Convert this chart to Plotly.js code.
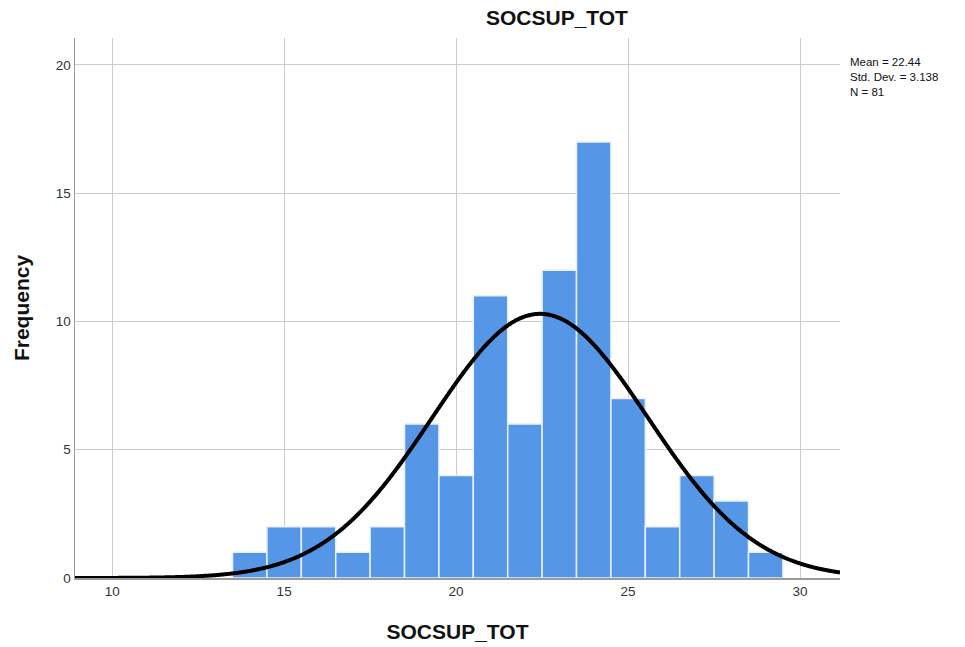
<!DOCTYPE html>
<html>
<head>
<meta charset="utf-8">
<script src="https://cdn.plot.ly/plotly-3.0.1.min.js"></script>
<style>html,body{margin:0;padding:0;background:#fff;}#chart{width:965px;height:647px;}</style>
</head>
<body>
<div id="chart"></div>
<script>
// Data
const binCenters = [14, 15, 16, 17, 18, 19, 20, 21, 22, 23, 24, 25, 26, 27, 28, 29];
const frequencies = [1, 2, 2, 1, 2, 6, 4, 11, 6, 12, 17, 7, 2, 4, 3, 1];
const statMean = 22.44;
const statSD = 3.138;
const statN = 81;
const binWidth = 1;
const xTicks = [10, 15, 20, 25, 30];
const yTicks = [0, 5, 10, 15, 20];

// Normal curve defined by the displayed statistics
const xMin = 8.92, xMax = 31.16;
const curveX = [], curveY = [];
for (let i = 0; i <= 600; i++) {
  const x = xMin + (xMax - xMin) * i / 600;
  const z = (x - statMean) / statSD;
  curveX.push(x);
  curveY.push(statN * binWidth * Math.exp(-0.5 * z * z) / (statSD * Math.sqrt(2 * Math.PI)));
}

const traces = [
  {
    type: 'bar', x: binCenters, y: frequencies, width: binWidth,
    marker: {color: '#5596E6', line: {color: '#E8F0FA', width: 1.5}},
    hoverinfo: 'x+y', showlegend: false
  },
  {
    type: 'scatter', mode: 'lines', x: curveX, y: curveY,
    line: {color: '#000000', width: 4, simplify: false, shape: 'spline'}, showlegend: false, hoverinfo: 'skip'
  }
];

const layout = {
  width: 965, height: 647,
  margin: {l: 75, r: 125, t: 38, b: 69},
  paper_bgcolor: '#ffffff', plot_bgcolor: '#ffffff',
  font: {family: 'Liberation Sans, Arial, sans-serif', color: '#222'},
  bargap: 0,
  title: {text: '<b>SOCSUP_TOT</b>', x: 0.63, xref: 'paper', xanchor: 'center', y: 0.972, yref: 'container', yanchor: 'middle', font: {size: 21, color: '#111'}},
  xaxis: {
    range: [xMin, xMax], tickvals: xTicks, ticktext: xTicks.map(String),
    showgrid: true, gridcolor: '#cccccc', gridwidth: 1,
    showline: true, linecolor: '#9a9a9a', linewidth: 1.5,
    zeroline: false, ticks: '', ticklen: 0,
    tickfont: {size: 13.5, color: '#333'},
    title: {text: '<b>SOCSUP_TOT</b>', font: {size: 21, color: '#111'}, standoff: 26}
  },
  yaxis: {
    range: [0, 21.05], tickvals: yTicks, ticktext: yTicks.map(String),
    showgrid: true, gridcolor: '#cccccc', gridwidth: 1,
    showline: true, linecolor: '#9a9a9a', linewidth: 1.5,
    zeroline: false, ticks: '', ticklen: 0,
    tickfont: {size: 13.5, color: '#333'},
    title: {text: '<b>Frequency</b>', font: {size: 21, color: '#111'}, standoff: 20}
  },
  annotations: [
    {
      xref: 'paper', yref: 'paper', x: 1.011, y: 0.97, xanchor: 'left', yanchor: 'top', align: 'left',
      showarrow: false,
      text: 'Mean = ' + statMean.toFixed(2) + '<br>Std. Dev. = ' + statSD.toFixed(3) + '<br>N = ' + statN,
      font: {size: 11.5, color: '#111'}
    }
  ]
};

Plotly.newPlot('chart', traces, layout, {displayModeBar: false, staticPlot: true});
</script>
</body>
</html>
